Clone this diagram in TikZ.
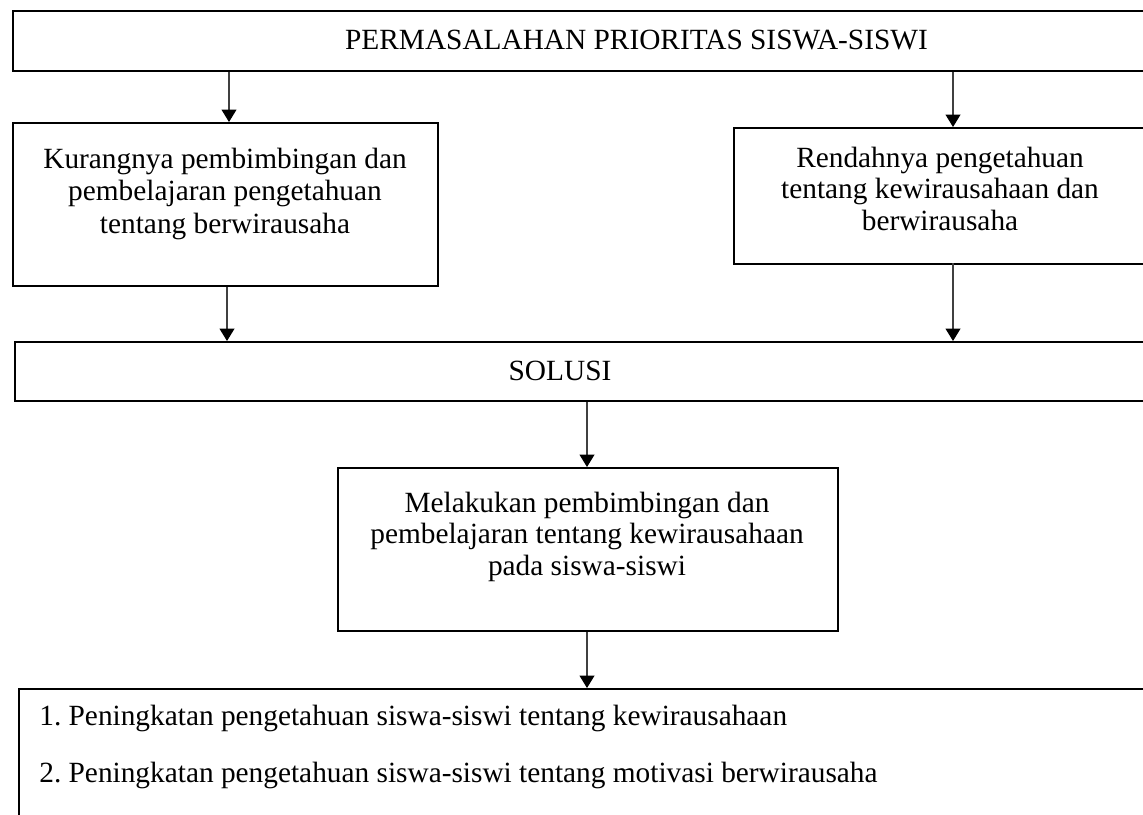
\documentclass[tikz,border=0pt]{standalone}
\usepackage{fontspec}
\setmainfont{Liberation Serif}
\usetikzlibrary{arrows.meta}
\definecolor{arrgray}{HTML}{404040}
\frenchspacing
\begin{document}
\begin{tikzpicture}[x=0.6pt,y=-0.6pt,
  box/.style={draw=black,line width=1.2pt,rectangle,inner sep=0pt,anchor=north west},
  txt/.style={inner sep=0pt,anchor=base,font=\fontsize{17.6pt}{19.2pt}\selectfont},
  txtl/.style={txt,anchor=base west},
  arr/.style={draw=arrgray,line width=0.7pt,-{Triangle[width=9pt,length=7.5pt,fill=black,color=black]}}]
\useasboundingbox (0,0) rectangle (1143,814);
\clip (0,0) rectangle (1143,814);
\fill[white] (0,0) rectangle (1143,814);
% boxes
\node[box,minimum width=688.8pt,minimum height=36pt] (top) at (12,10) {};
\node[box,minimum width=255pt,minimum height=97.8pt] (kur) at (12,122) {};
\node[box,minimum width=250.2pt,minimum height=81.6pt] (ren) at (733,127) {};
\node[box,minimum width=687.6pt,minimum height=35.4pt] (sol) at (14,341) {};
\node[box,minimum width=300pt,minimum height=97.8pt] (mel) at (337,467) {};
\node[box,minimum width=685.2pt,minimum height=91.2pt] (res) at (18,688) {};
% texts
\node[txt] (ttop) at (636.5,49) {PERMASALAHAN PRIORITAS SISWA-SISWI};
\node[txt] (k1) at (225,168) {Kurangnya pembimbingan dan};
\node[txt] (k2) at (225,200) {pembelajaran pengetahuan};
\node[txt] (k3) at (225,233) {tentang berwirausaha};
\node[txt] (r1) at (940,167) {Rendahnya pengetahuan};
\node[txt] (r2) at (940,198) {tentang kewirausahaan dan};
\node[txt] (r3) at (940,230) {berwirausaha};
\node[txt] (tsol) at (560,380) {SOLUSI};
\node[txt] (m1) at (587,512) {Melakukan pembimbingan dan};
\node[txt] (m2) at (587,543) {pembelajaran tentang kewirausahaan};
\node[txt] (m3) at (587,575) {pada siswa-siswi};
\node[txtl] (h1) at (39,725) {1. Peningkatan pengetahuan siswa-siswi tentang kewirausahaan};
\node[txtl] (h2) at (39,782) {2. Peningkatan pengetahuan siswa-siswi tentang motivasi berwirausaha};
% arrow columns
\coordinate (c1) at (229,0);
\coordinate (c2) at (953,0);
\coordinate (c3) at (227,0);
\coordinate (c5) at (587,0);
% connectors
\draw[arr] (c1 |- top.south) -- (c1 |- kur.north);
\draw[arr] (c2 |- top.south) -- (c2 |- ren.north);
\draw[arr] (c3 |- kur.south) -- (c3 |- sol.north);
\draw[arr] ([yshift=1.2pt]c2 |- ren.south) -- (c2 |- sol.north);
\draw[arr] (c5 |- sol.south) -- (c5 |- mel.north);
\draw[arr] (c5 |- mel.south) -- (c5 |- res.north);
\end{tikzpicture}
\end{document}
